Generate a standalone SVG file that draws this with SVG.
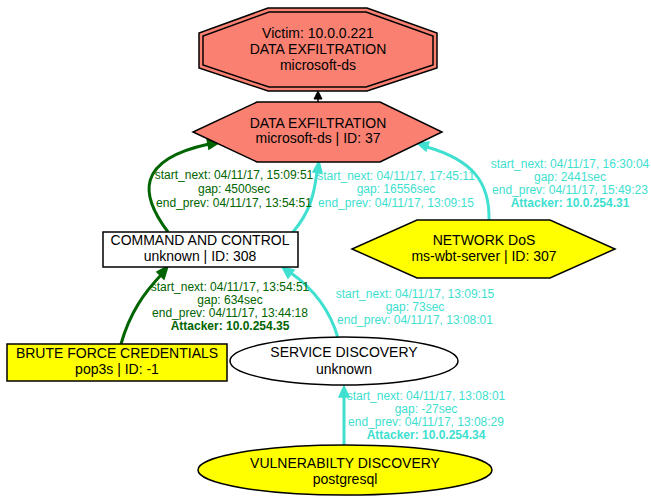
<svg xmlns="http://www.w3.org/2000/svg" width="651" height="496" viewBox="0 0 651 496">
<style>
text{font-family:"Liberation Sans",Arial,sans-serif;text-anchor:middle}
.n{font-size:14px;fill:#000}
.l{font-size:12px}
.g{fill:#006400}
.t{fill:#40E0D0}
.b{font-weight:bold}
.shape{stroke:#000;stroke-width:1.5}
.eg{fill:none;stroke:#006400;stroke-width:3}
.et{fill:none;stroke:#40E0D0;stroke-width:3}
</style>
<rect width="651" height="496" fill="#fff"/>
<g id="connectors">
<line x1="318" y1="102" x2="318" y2="98" stroke="#000" stroke-width="1.5"/>
<polygon points="318,91 322,99 314,99" fill="#000" stroke="#000"/>
<path class="eg" d="M168,232 C140,195 135,160 209,144"/>
<polygon points="220,142 207,139 209,149" fill="#006400" stroke="#006400" stroke-width="1.5"/>
<path class="et" d="M293,232 C310,212 314,195 317,172"/>
<polygon points="319,161 313,172 322,173" fill="#40E0D0" stroke="#40E0D0" stroke-width="1.5"/>
<path class="et" d="M489,220 C490,182 472,160 427,147"/>
<polygon points="417,143 426,151 429,142" fill="#40E0D0" stroke="#40E0D0" stroke-width="1.5"/>
<path class="eg" d="M121,344 C130,312 145,292 161,275"/>
<polygon points="168,266 157,272 164,279" fill="#006400" stroke="#006400" stroke-width="1.5"/>
<path class="et" d="M338,338 C330,310 315,290 291,273"/>
<polygon points="282,267 288,278 294,270" fill="#40E0D0" stroke="#40E0D0" stroke-width="1.5"/>
<line class="et" x1="344" y1="445" x2="344" y2="396"/>
<polygon points="344,386 339,397 349,397" fill="#40E0D0" stroke="#40E0D0" stroke-width="1.5"/>
</g>
<g id="edge-labels">
<text class="l g" x="234" y="179">start_next: 04/11/17, 15:09:51</text>
<text class="l g" x="234" y="193">gap: 4500sec</text>
<text class="l g" x="234" y="207">end_prev: 04/11/17, 13:54:51</text>
<text class="l t" x="396" y="180">start_next: 04/11/17, 17:45:11</text>
<text class="l t" x="396" y="193">gap: 16556sec</text>
<text class="l t" x="396" y="207">end_prev: 04/11/17, 13:09:15</text>
<text class="l t" x="570" y="168">start_next: 04/11/17, 16:30:04</text>
<text class="l t" x="570" y="181">gap: 2441sec</text>
<text class="l t" x="570" y="194">end_prev: 04/11/17, 15:49:23</text>
<text class="l t b" x="570" y="207">Attacker: 10.0.254.31</text>
<text class="l g" x="230" y="291">start_next: 04/11/17, 13:54:51</text>
<text class="l g" x="230" y="304">gap: 634sec</text>
<text class="l g" x="230" y="317">end_prev: 04/11/17, 13:44:18</text>
<text class="l g b" x="230" y="330">Attacker: 10.0.254.35</text>
<text class="l t" x="415" y="298">start_next: 04/11/17, 13:09:15</text>
<text class="l t" x="415" y="311">gap: 73sec</text>
<text class="l t" x="415" y="324">end_prev: 04/11/17, 13:08:01</text>
<text class="l t" x="426" y="400">start_next: 04/11/17, 13:08:01</text>
<text class="l t" x="426" y="413">gap: -27sec</text>
<text class="l t" x="426" y="426">end_prev: 04/11/17, 13:08:29</text>
<text class="l t b" x="426" y="439">Attacker: 10.0.254.34</text>
</g>
<g id="victim">
<polygon class="shape" fill="#FA8072" points="268,8 367,8 437,33 437,68 367,91 268,91 199,68 199,33"/>
<polygon fill="none" stroke="#000" stroke-width="1.5" points="269,12 366,12 433,36 433,65 366,87 269,87 203,65 203,36"/>
<text class="n" x="318" y="38">Victim: 10.0.0.221</text>
<text class="n" x="318" y="54">DATA EXFILTRATION</text>
<text class="n" x="318" y="70">microsoft-ds</text>
</g>
<g id="data-exfiltration">
<polygon class="shape" fill="#FA8072" points="257,102 380,102 442,132 380,162 257,162 193,132"/>
<text class="n" x="318" y="128">DATA EXFILTRATION</text>
<text class="n" x="318" y="143">microsoft-ds | ID: 37</text>
</g>
<g id="command-and-control">
<rect class="shape" fill="#fff" x="103" y="232" width="195" height="35"/>
<text class="n" x="200" y="245">COMMAND AND CONTROL</text>
<text class="n" x="200" y="261">unknown | ID: 308</text>
</g>
<g id="network-dos">
<polygon class="shape" fill="#FFFF00" points="417,220 550,220 615,249 550,278 417,278 352,249"/>
<text class="n" x="484" y="245">NETWORK DoS</text>
<text class="n" x="484" y="261">ms-wbt-server | ID: 307</text>
</g>
<g id="brute-force">
<rect class="shape" fill="#FFFF00" x="7" y="344" width="220" height="37"/>
<text class="n" x="117" y="358">BRUTE FORCE CREDENTIALS</text>
<text class="n" x="117" y="374">pop3s | ID: -1</text>
</g>
<g id="service-discovery">
<ellipse class="shape" fill="#fff" cx="344" cy="361" rx="114" ry="24"/>
<text class="n" x="344" y="357">SERVICE DISCOVERY</text>
<text class="n" x="344" y="374">unknown</text>
</g>
<g id="vulnerability-discovery">
<ellipse class="shape" fill="#FFFF00" cx="345" cy="470" rx="147" ry="25"/>
<text class="n" x="345" y="468">VULNERABILTY DISCOVERY</text>
<text class="n" x="345" y="484">postgresql</text>
</g>
</svg>
